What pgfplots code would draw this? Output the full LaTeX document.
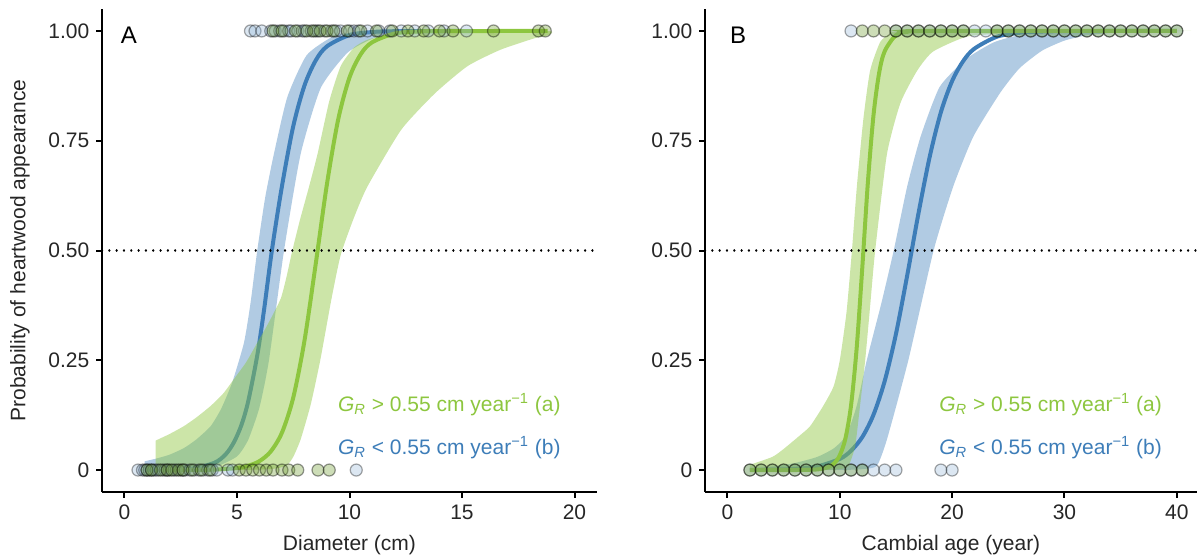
\documentclass[border=0pt]{standalone}
\usepackage{fontspec}
\setmainfont{Liberation Sans}
\usepackage{pgfplots}
\pgfplotsset{compat=1.18}
\definecolor{grn}{RGB}{141,198,63}
\definecolor{blu}{RGB}{61,125,184}
\pgfplotsset{
  panel/.style={
    scale only axis, height=241.5pt, ymin=-0.05, ymax=1.05,
    axis lines=left, axis line style={-, line width=1pt, black},
    tick align=outside, major tick length=2.8pt,
    tick style={line width=1pt, black},
    ytick={0,0.25,0.5,0.75,1}, yticklabels={0,0.25,0.50,0.75,1.00},
    tick label style={font=\fontsize{10.5}{12}\selectfont, text=black!85},
    label style={font=\fontsize{10.5}{12}\selectfont, text=black!85},
    /pgf/number format/assume math mode=true,
  },
  bband/.style={fill=blu, fill opacity=0.4, draw=none, smooth, tension=0.35},
  gband/.style={fill=grn, fill opacity=0.45, draw=none, smooth, tension=0.35},
  bline/.style={blu, line width=2pt, smooth, tension=0.5},
  gline/.style={grn, line width=2pt, smooth, tension=0.5},
  bpts/.style={only marks, mark=*, mark size=3pt, mark options={fill=blu!60, fill opacity=0.3, draw=black, draw opacity=0.35, line width=0.6pt}},
  gpts/.style={only marks, mark=*, mark size=3pt, mark options={fill=grn!80!black, fill opacity=0.35, draw=black, draw opacity=0.4, line width=0.6pt}},
  half/.style={black, line width=1.2pt, line cap=round, dash pattern=on 0.01pt off 3.65pt},
}
\begin{document}
\begin{tikzpicture}
\useasboundingbox (0,0) rectangle (600.5pt,279.5pt);
% ---------------- Panel A ----------------
\begin{axis}[panel, at={(51pt,33.5pt)}, anchor=south west, width=247.5pt,
  xmin=-1, xmax=21, xtick={0,5,10,15,20}, xticklabels={0,5,10,15,20},
  xlabel={Diameter (cm)}, ylabel={Probability of heartwood appearance},
  xlabel style={at={(axis description cs:0.5,-0.11)}, anchor=center},
  ylabel style={at={(axis description cs:-0.166,0.5)}, anchor=center}]
% blue band
\addplot[bband] coordinates {(0.9,0.02)(1.4,0.026)(2.0,0.035)(2.64,0.05)(3.2,0.07)(3.83,0.10)(4.3,0.14)(4.79,0.2)(5.31,0.29)(5.6,0.38)(5.9,0.5)(6.25,0.62)(6.64,0.72)(7.24,0.85)(8.1,0.945)(9.3,0.988)(10.5,0.998)(15,1.0)
 (15,0.9995)(12,0.995)(11,0.982)(9.9,0.95)(8.72,0.87)(7.83,0.72)(7.09,0.5)(6.42,0.25)(6.0,0.143)(5.5,0.069)(5.0,0.031)(4.0,0.006)(3.0,0.0012)(2.0,0.0002)(0.9,0.0)};
\addplot[bline] coordinates {(0.9,0.0001)(2,0.0007)(3,0.0034)(4,0.0166)(4.5,0.036)(4.86,0.063)(5.2,0.103)(5.5,0.157)(5.9,0.261)(6.2,0.364)(6.55,0.5)(7,0.647)(7.5,0.783)(8,0.876)(8.5,0.933)(9,0.965)(10,0.9906)(11,0.9975)(12,0.9994)(15,1.0)};
% green band
\addplot[gband] coordinates {(1.38,0.067)(2.0,0.082)(2.64,0.10)(3.2,0.12)(3.83,0.146)(4.4,0.175)(4.86,0.207)(5.4,0.245)(5.9,0.29)(6.4,0.335)(6.94,0.39)(7.2,0.44)(7.46,0.5)(7.8,0.57)(8.2,0.645)(8.58,0.72)(9.1,0.84)(9.61,0.92)(10.2,0.962)(10.8,0.98)(12,0.995)(14,0.999)(18.8,1.0)
 (18.8,0.99)(18.2,0.983)(16.7,0.957)(15.25,0.92)(13.8,0.858)(12.3,0.775)(10.8,0.646)(10.2,0.575)(9.61,0.49)(9.2,0.39)(8.7,0.25)(8.28,0.15)(7.83,0.07)(7.5,0.03)(7.24,0.012)(6.8,0.004)(6,0.001)(4,0.0)(1.38,0.0)};
% points
\addplot[bpts] coordinates {(0.6,0)(0.8,0)(0.9,0)(1.0,0)(1.1,0)(1.2,0)(1.3,0)(1.4,0)(1.5,0)(1.7,0)(1.8,0)(1.9,0)(2.0,0)(2.2,0)(2.3,0)(2.5,0)(2.6,0)(2.7,0)(2.9,0)(3.1,0)(3.3,0)(3.5,0)(3.7,0)(3.9,0)(4.1,0)(4.6,0)(4.8,0)(10.3,0)
 (5.6,1)(5.8,1)(6.1,1)(6.5,1)(6.7,1)(6.9,1)(7.1,1)(7.3,1)(7.4,1)(7.7,1)(7.9,1)(8.0,1)(8.3,1)(8.5,1)(8.6,1)(8.9,1)(9.2,1)(9.4,1)(9.6,1)(10.0,1)(10.2,1)(10.4,1)(10.8,1)(11.3,1)(11.8,1)(12.3,1)(12.9,1)(13.5,1)(14.2,1)(15.2,1)};
\addplot[gpts] coordinates {(1.0,0)(1.2,0)(1.6,0)(1.9,0)(2.1,0)(2.4,0)(2.6,0)(3.0,0)(3.4,0)(3.8,0)(5.1,0)(5.4,0)(5.7,0)(6.0,0)(6.3,0)(6.6,0)(7.0,0)(7.3,0)(7.7,0)(8.6,0)(9.1,0)
 (6.6,1)(7.0,1)(7.6,1)(8.1,1)(8.4,1)(8.7,1)(9.0,1)(9.3,1)(9.9,1)(10.5,1)(11.2,1)(11.9,1)(12.6,1)(13.3,1)(14.0,1)(14.6,1)(16.4,1)(18.4,1)(18.7,1)};
\addplot[gline] coordinates {(1.38,0.0)(2,0.00005)(3,0.0002)(4,0.001)(5,0.0046)(5.5,0.0098)(6,0.0204)(6.5,0.0423)(7,0.0855)(7.5,0.165)(8,0.295)(8.5,0.47)(9,0.652)(9.5,0.799)(10,0.894)(10.5,0.947)(11,0.974)(12,0.9941)(13,0.9987)(14,0.9997)(18.8,1.0)};
\addplot[half] coordinates {(-1,0.5)(21,0.5)};
\node[anchor=center, font=\fontsize{12}{14}\selectfont] at (axis cs:0.2,0.99) {A};
\node[anchor=east, font=\fontsize{10.5}{12}\selectfont, text=grn, inner sep=0pt] at (axis cs:19.4,0.15) {\textit{G}\textsubscript{\textit{R}} > 0.55 cm year\textsuperscript{−1} (a)};
\node[anchor=east, font=\fontsize{10.5}{12}\selectfont, text=blu, inner sep=0pt] at (axis cs:19.4,0.052) {\textit{G}\textsubscript{\textit{R}} < 0.55 cm year\textsuperscript{−1} (b)};
\end{axis}
% ---------------- Panel B ----------------
\begin{axis}[panel, at={(352.5pt,33.5pt)}, anchor=south west, width=246pt,
  xmin=-2, xmax=41.8, xtick={0,10,20,30,40}, xticklabels={0,10,20,30,40},
  xlabel={Cambial age (year)},
  xlabel style={at={(axis description cs:0.5,-0.11)}, anchor=center}]
\addplot[bband] coordinates {(2,0.004)(4,0.008)(6,0.016)(8,0.03)(9.5,0.05)(10.6,0.08)(11.5,0.146)(12.4,0.25)(13.7,0.38)(14.8,0.5)(16.0,0.646)(17.2,0.76)(18.9,0.873)(21.3,0.937)(23.7,0.974)(26,0.99)(30,0.998)(40,1.0)
 (40,0.9995)(35,0.997)(32,0.99)(30,0.978)(28,0.955)(26,0.915)(24.3,0.86)(21.9,0.76)(20.1,0.646)(18.35,0.5)(16.1,0.25)(14.2,0.07)(13.3,0.01)(12,0.002)(10,0.0003)(2,0.0)};
\addplot[bline] coordinates {(2,0.0003)(4,0.0009)(6,0.0027)(8,0.0083)(10,0.0254)(11,0.044)(12,0.075)(13,0.126)(14,0.203)(15,0.310)(16,0.443)(17,0.584)(18,0.713)(19,0.815)(20,0.886)(21,0.932)(22,0.960)(24,0.987)(26,0.9958)(28,0.9987)(30,0.9996)(35,1.0)(40,1.0)};
\addplot[gband] coordinates {(2,0.012)(4,0.03)(5,0.048)(6.5,0.08)(7.36,0.10)(8.5,0.145)(9.44,0.19)(10.0,0.25)(10.6,0.36)(11.08,0.5)(11.52,0.646)(12.1,0.80)(12.7,0.91)(13.6,0.975)(14.5,0.993)(16,0.999)(40,1.0)
 (40,0.9999)(30,0.999)(25,0.995)(21.3,0.987)(18.3,0.953)(16.9,0.91)(15.4,0.836)(14.2,0.72)(13.15,0.5)(12.7,0.373)(12.26,0.25)(11.8,0.146)(11.37,0.055)(10.78,0.01)(10,0.002)(8,0.0)(2,0.0)};
\addplot[bpts] coordinates {(2,0)(3,0)(4,0)(5,0)(6,0)(7,0)(8,0)(9,0)(10,0)(11,0)(12,0)(13,0)(14,0)(15,0)(19,0)(20,0)
 (11,1)(15,1)(16,1)(17,1)(18,1)(19,1)(20,1)(21,1)(22,1)(23,1)(24,1)(25,1)(26,1)(27,1)(28,1)(29,1)(30,1)(31,1)(32,1)(33,1)(34,1)(35,1)(36,1)(37,1)(38,1)(39,1)(40,1)};
\addplot[gpts] coordinates {(2,0)(3,0)(4,0)(5,0)(6,0)(7,0)(8,0)(9,0)(10,0)(11,0)(12,0)
 (12,1)(13,1)(14,1)(15,1)(16,1)(17,1)(18,1)(19,1)(20,1)(21,1)(24,1)(25,1)(26,1)(27,1)(28,1)(29,1)(30,1)(31,1)(32,1)(33,1)(34,1)(35,1)(36,1)(37,1)(38,1)(39,1)(40,1)};
\addplot[gline] coordinates {(2,0.0)(4,0.0)(6,0.00006)(8,0.0014)(9,0.007)(9.5,0.0154)(10,0.0336)(10.5,0.0718)(11,0.147)(11.5,0.277)(12,0.46)(12.5,0.655)(13,0.808)(13.5,0.904)(14,0.954)(15,0.9904)(16,0.998)(18,1.0)(40,1.0)};
\addplot[half] coordinates {(-2,0.5)(41.8,0.5)};
\node[anchor=center, font=\fontsize{12}{14}\selectfont] at (axis cs:0.95,0.99) {B};
\node[anchor=east, font=\fontsize{10.5}{12}\selectfont, text=grn, inner sep=0pt] at (axis cs:38.7,0.15) {\textit{G}\textsubscript{\textit{R}} > 0.55 cm year\textsuperscript{−1} (a)};
\node[anchor=east, font=\fontsize{10.5}{12}\selectfont, text=blu, inner sep=0pt] at (axis cs:38.7,0.052) {\textit{G}\textsubscript{\textit{R}} < 0.55 cm year\textsuperscript{−1} (b)};
\end{axis}
\end{tikzpicture}
\end{document}
